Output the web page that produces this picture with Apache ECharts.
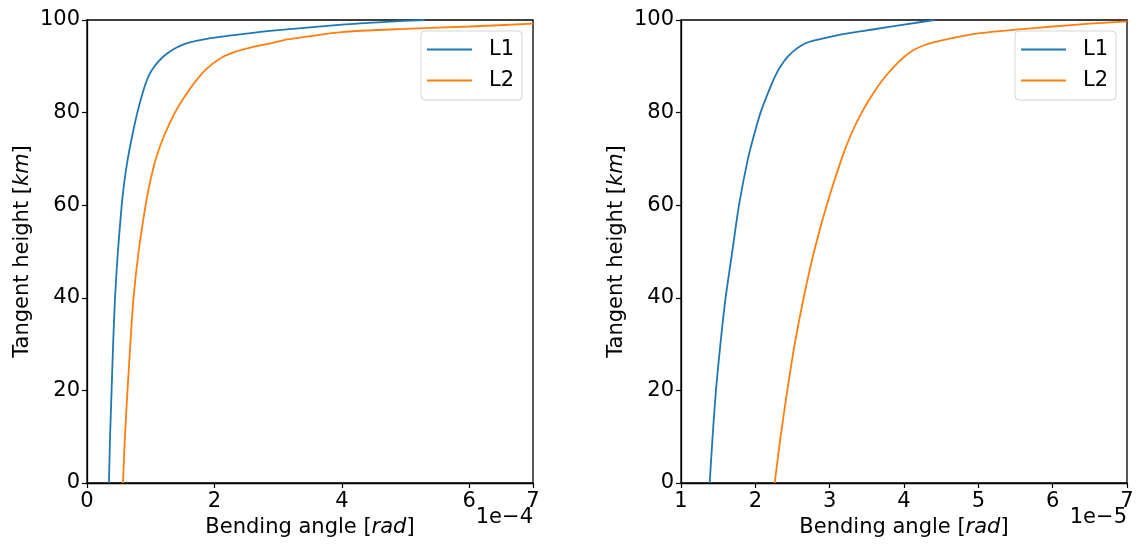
<!DOCTYPE html>
<html>
<head>
<meta charset="utf-8">
<script src="https://cdn.jsdelivr.net/npm/echarts@6/dist/echarts.min.js"></script>
<style>
html,body{margin:0;padding:0;background:#fff;}
#chart{width:1139px;height:545px;}
</style>
</head>
<body>
<div id="chart"></div>
<script>
// Left panel (x in units of 1e-4 rad)
const leftL1Angle  = [0.344, 0.362, 0.386, 0.41, 0.44, 0.485, 0.545, 0.585, 0.64, 0.71, 0.79, 0.89, 0.97, 1.06, 1.12, 1.19, 1.28, 1.40, 1.57, 1.9, 2.4, 3.0, 4.0, 4.7, 5.3];
const leftL1Height = [0, 10, 20, 30, 40, 50, 60, 65, 70, 75, 80, 85, 88, 90, 91, 92, 93, 94, 95, 96, 96.9, 97.8, 99.0, 99.6, 100];
const leftL2Angle  = [0.565, 0.595, 0.636, 0.68, 0.73, 0.81, 0.92, 0.99, 1.08, 1.21, 1.38, 1.51, 1.70, 1.88, 2.09, 2.32, 2.58, 2.86, 3.15, 4.0, 5.0, 6.0, 7.0];
const leftL2Height = [0, 10, 20, 30, 40, 50, 60, 65, 70, 75, 80, 83, 86.7, 89.5, 91.7, 93.1, 94.1, 94.9, 95.8, 97.4, 98.1, 98.6, 99.2];
// Right panel (x in units of 1e-5 rad)
const rightL1Angle  = [1.386, 1.425, 1.47, 1.53, 1.60, 1.69, 1.78, 1.90, 1.98, 2.07, 2.19, 2.27, 2.34, 2.43, 2.53, 2.62, 2.73, 2.90, 3.2, 3.6, 4.0, 4.41];
const rightL1Height = [0, 10, 20, 30, 40, 50, 60, 70, 75, 80, 85, 88, 90, 92, 93.5, 94.5, 95.3, 96, 97, 98, 99, 100];
const rightL2Angle  = [2.26, 2.34, 2.43, 2.53, 2.65, 2.79, 2.96, 3.16, 3.28, 3.43, 3.62, 3.76, 3.87, 4.00, 4.13, 4.28, 4.54, 5.0, 5.5, 6.0, 6.5, 7.0];
const rightL2Height = [0, 10, 20, 30, 40, 50, 60, 70, 75, 80, 85, 88, 90, 92, 93.5, 94.6, 95.7, 97.1, 97.9, 98.6, 99.2, 99.7];

const seriesNames = ['L1', 'L2'];
const colors = ['#1f77b4', '#ff7f0e'];
const leftOffsetText = '1e\u22124';
const rightOffsetText = '1e\u22125';
const xLabel = 'Bending angle [{i|rad}]';
const yLabel = 'Tangent height [{i|km}]';

function zip(a, b) { return a.map((v, i) => [v, b[i]]); }

const FONT = 'DejaVu Sans';
const FS = 21;
const richName = {
  i: { fontStyle: 'italic', fontSize: FS, fontFamily: FONT, color: '#000' }
};

function xAxisOf(gridIndex, min, max, interval) {
  return {
    type: 'value', gridIndex, min, max, interval,
    name: xLabel, nameLocation: 'middle', nameGap: 28,
    nameTextStyle: { fontSize: FS, fontFamily: FONT, color: '#000', rich: richName },
    axisLine: { show: true, onZero: false, lineStyle: { color: '#000', width: 1.3 } },
    axisTick: { show: true, inside: false, length: 5, lineStyle: { color: '#000', width: 1.2 } },
    axisLabel: { fontSize: FS, fontFamily: FONT, color: '#000', margin: 8, showMaxLabel: true, showMinLabel: true },
    splitLine: { show: false }
  };
}
function yAxisOf(gridIndex) {
  return {
    type: 'value', gridIndex, min: 0, max: 100, interval: 20,
    name: yLabel, nameLocation: 'middle', nameGap: 54, nameRotate: 90,
    nameTextStyle: { fontSize: FS, fontFamily: FONT, color: '#000', rich: richName },
    axisLine: { show: true, onZero: false, lineStyle: { color: '#000', width: 1.3 } },
    axisTick: { show: true, inside: false, length: 5, lineStyle: { color: '#000', width: 1.2 } },
    axisLabel: { fontSize: FS, fontFamily: FONT, color: '#000', margin: 7 },
    splitLine: { show: false }
  };
}
function lineSeries(name, idx, data, color) {
  return {
    type: 'line', name, xAxisIndex: idx, yAxisIndex: idx, data,
    showSymbol: false, symbol: 'none', smooth: 0.25, clip: true,
    lineStyle: { color, width: 1.8 }, itemStyle: { color },
    animation: false
  };
}
function legendOf(left, top) {
  return {
    data: seriesNames.map(n => ({ name: n, icon: 'rect' })),
    orient: 'vertical', left, top,
    itemWidth: 45, itemHeight: 2, itemGap: 10,
    padding: [8, 8, 9, 6],
    borderColor: '#d5d5d5', borderWidth: 1, borderRadius: 4,
    backgroundColor: 'rgba(255,255,255,0.8)',
    textStyle: { fontSize: FS, fontFamily: FONT, color: '#000', padding: [0, 0, 0, 12], lineHeight: 21 }
  };
}

const chart = echarts.init(document.getElementById('chart'), null, { renderer: 'canvas' });
chart.setOption({
  animation: false,
  backgroundColor: '#fff',
  grid: [
    { left: 87, right: 606, top: 20, bottom: 62, show: true, borderColor: '#000', borderWidth: 1.3 },
    { left: 681, right: 12, top: 20, bottom: 62, show: true, borderColor: '#000', borderWidth: 1.3 }
  ],
  xAxis: [xAxisOf(0, 0, 7, 2), xAxisOf(1, 1, 7, 1)],
  yAxis: [yAxisOf(0), yAxisOf(1)],
  legend: [legendOf(421, 31), legendOf(1015, 31)],
  series: [
    lineSeries(seriesNames[0], 0, zip(leftL1Angle, leftL1Height), colors[0]),
    lineSeries(seriesNames[1], 0, zip(leftL2Angle, leftL2Height), colors[1]),
    lineSeries(seriesNames[0], 1, zip(rightL1Angle, rightL1Height), colors[0]),
    lineSeries(seriesNames[1], 1, zip(rightL2Angle, rightL2Height), colors[1])
  ],
  graphic: [
    { type: 'text', right: 1139 - 533, top: 507, style: { text: leftOffsetText, fontSize: FS, fontFamily: FONT, fill: '#000' } },
    { type: 'text', right: 12, top: 507, style: { text: rightOffsetText, fontSize: FS, fontFamily: FONT, fill: '#000' } }
  ]
});
</script>
</body>
</html>
